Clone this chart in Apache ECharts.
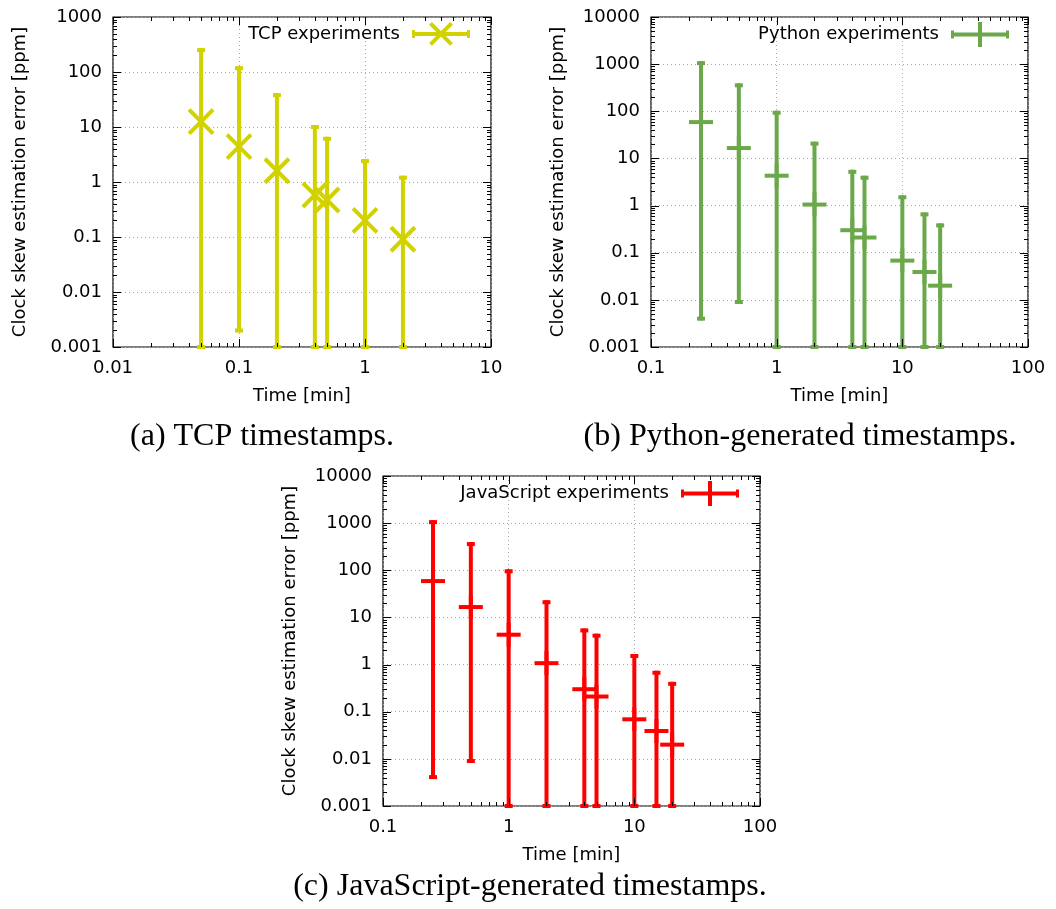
<!DOCTYPE html>
<html>
<head>
<meta charset="utf-8">
<script src="https://cdn.jsdelivr.net/npm/echarts@6/dist/echarts.min.js"></script>
<style>
  html, body { margin: 0; padding: 0; background: #fff; }
  #echarts { width: 1056px; height: 909px; }
</style>
</head>
<body>
<div id="echarts"></div>
<script>
// valores: tempo [min], erro médio, limites da barra de erro
var tcpTime = [0.05, 0.1, 0.2, 0.4, 0.5, 1, 2];
var tcpErr = [12.5, 4.4, 1.6, 0.58, 0.47, 0.2, 0.091];
var tcpHigh = [250, 117, 38, 10, 6.1, 2.4, 1.2];
var tcpLow = [0.001, 0.002, 0.001, 0.001, 0.001, 0.001, 0.001];

var pyTime = [0.25, 0.5, 1, 2, 4, 5, 10, 15, 20];
var pyErr = [59, 16.6, 4.3, 1.05, 0.3, 0.21, 0.068, 0.039, 0.02];
var pyHigh = [1050, 355, 93, 20.6, 5.2, 3.9, 1.5, 0.65, 0.38];
var pyLow = [0.004, 0.009, 0.001, 0.001, 0.001, 0.001, 0.001, 0.001, 0.001];

var jsTime = [0.25, 0.5, 1, 2, 4, 5, 10, 15, 20];
var jsErr = [59, 16.6, 4.3, 1.07, 0.3, 0.21, 0.069, 0.039, 0.02];
var jsHigh = [1050, 360, 95, 21, 5.3, 4.1, 1.52, 0.67, 0.39];
var jsLow = [0.0041, 0.009, 0.001, 0.001, 0.001, 0.001, 0.001, 0.001, 0.001];

// limites dos eixos
var xRangeA = [0.01, 10];
var yRangeA = [0.001, 1000];
var xRangeB = [0.1, 100];
var yRangeB = [0.001, 10000];

var captions = ['(a) TCP timestamps.', '(b) Python-generated timestamps.', '(c) JavaScript-generated timestamps.'];
var legendNames = ['TCP experiments', 'Python experiments', 'JavaScript experiments'];
var colors = ['#d2d200', '#6aa84a', '#ff0000'];

var chart = echarts.init(document.getElementById('echarts'));

var sans = 'DejaVu Sans';

// junta as colunas em linhas [x, y, low, high]
function rows(t, e, lo, hi) {
    return t.map(function (v, i) {
        return [v, e[i], lo[i], hi[i]];
    });
}

// ticks maiores e menores (décadas e 2..9 x década)
function tickRows(xr, yr) {
    var out = [];
    function add(lo, hi, kind) {
        for (var d = lo; d <= hi * 1.0001; d *= 10) {
            var dec = +d.toPrecision(6);
            if (kind === 0) out.push([dec, yr[0], 1, 0]);
            else out.push([xr[0], dec, 1, 1]);
            if (dec * 10 > hi * 1.0001) break;
            for (var k = 2; k <= 9; k++) {
                var v = +(k * dec).toPrecision(6);
                if (kind === 0) out.push([v, yr[0], 0, 0]);
                else out.push([xr[0], v, 0, 1]);
            }
        }
    }
    add(xr[0], xr[1], 0);
    add(yr[0], yr[1], 1);
    return out;
}

function renderTicks(params, api) {
    var cs = params.coordSys;
    var p = api.coord([api.value(0), api.value(1)]);
    var len = api.value(2) ? 8 : 4;
    var st = { stroke: '#000', lineWidth: 1 };
    var kids = [];
    if (api.value(3) === 0) {
        var x = Math.round(p[0]) + 0.5;
        var b = cs.y + cs.height;
        kids.push({ type: 'line', shape: { x1: x, y1: b, x2: x, y2: b - len }, style: st });
        kids.push({ type: 'line', shape: { x1: x, y1: cs.y, x2: x, y2: cs.y + len }, style: st });
    } else {
        var y = Math.round(p[1]) + 0.5;
        var r = cs.x + cs.width;
        kids.push({ type: 'line', shape: { x1: cs.x, y1: y, x2: cs.x + len, y2: y }, style: st });
        kids.push({ type: 'line', shape: { x1: r, y1: y, x2: r - len, y2: y }, style: st });
    }
    return { type: 'group', children: kids };
}

// barra de erro com marcador 'x' ou '+'
function renderErr(marker) {
    return function (params, api) {
        var c = api.coord([api.value(0), api.value(1)]);
        var pl = api.coord([api.value(0), api.value(2)]);
        var ph = api.coord([api.value(0), api.value(3)]);
        var st = { stroke: api.visual('color'), lineWidth: 4 };
        var x = c[0];
        var kids = [
            { type: 'line', shape: { x1: x, y1: pl[1] + 2, x2: x, y2: ph[1] - 2 }, style: st },
            { type: 'line', shape: { x1: x - 4, y1: pl[1], x2: x + 4, y2: pl[1] }, style: st },
            { type: 'line', shape: { x1: x - 4, y1: ph[1], x2: x + 4, y2: ph[1] }, style: st }
        ];
        var s = 12;
        if (marker === 'x') {
            kids.push({ type: 'line', shape: { x1: x - s, y1: c[1] - s, x2: x + s, y2: c[1] + s }, style: st });
            kids.push({ type: 'line', shape: { x1: x - s, y1: c[1] + s, x2: x + s, y2: c[1] - s }, style: st });
        } else {
            kids.push({ type: 'line', shape: { x1: x - s, y1: c[1], x2: x + s, y2: c[1] }, style: st });
            kids.push({ type: 'line', shape: { x1: x, y1: c[1] - s, x2: x, y2: c[1] + s }, style: st });
        }
        return { type: 'group', children: kids };
    };
}

var iconX = 'path://M0,10.5H58V14.5H0Z M0,8.5H3V16.5H0Z M55,8.5H58V16.5H55Z ' +
    'M19.9,0.6L40.9,21.6L38.1,24.4L17.1,3.4Z M38.1,0.6L40.9,3.4L19.9,24.4L17.1,21.6Z';
var iconPlus = 'path://M0,10.5H58V14.5H0Z M0,8.5H3V16.5H0Z M55,8.5H58V16.5H55Z M27,0H31V25H27Z';

function fmt(v) {
    return String(+(+v).toPrecision(4));
}

function xAxisFor(i, range) {
    return {
        type: 'log', logBase: 10, gridIndex: i, min: range[0], max: range[1],
        name: 'Time [min]', nameLocation: 'middle', nameGap: 40,
        nameTextStyle: { color: '#000', fontSize: 18, fontFamily: sans },
        axisLine: { show: false },
        axisTick: { show: false },
        axisLabel: { color: '#000', fontSize: 18, fontFamily: sans, margin: 12, formatter: fmt },
        splitLine: { show: true, lineStyle: { color: '#a8a8a8', width: 1, type: [1, 3] } }
    };
}

function yAxisFor(i, range) {
    return {
        type: 'log', logBase: 10, gridIndex: i, min: range[0], max: range[1],
        name: 'Clock skew estimation error [ppm]', nameLocation: 'middle', nameGap: 84,
        nameTextStyle: { color: '#000', fontSize: 18, fontFamily: sans },
        axisLine: { show: false },
        axisTick: { show: false },
        axisLabel: { color: '#000', fontSize: 18, fontFamily: sans, margin: 11, formatter: fmt },
        splitLine: { show: true, lineStyle: { color: '#a8a8a8', width: 1, type: [1, 3] } }
    };
}

function legendFor(i, right, top, icon) {
    return {
        data: [{ name: legendNames[i], icon: icon }],
        right: right, top: top, padding: 0,
        align: 'right', itemWidth: 58, itemHeight: 25,
        selectedMode: false,
        textStyle: { color: '#000', fontSize: 18, fontFamily: sans, padding: [0, 7, 0, 0] }
    };
}

var captionFont = { fontSize: 32, fontFamily: 'Liberation Serif', fill: '#000', textAlign: 'center', textVerticalAlign: 'middle' };

function caption(i, x, y) {
    return { type: 'text', x: x, y: y, style: Object.assign({ text: captions[i] }, captionFont) };
}

var options = {
    animation: false,
    backgroundColor: '#fff',
    grid: [
        { left: 113, top: 17, width: 378, height: 330, show: true, borderColor: '#000', borderWidth: 1.2, backgroundColor: 'transparent' },
        { left: 651, top: 17, width: 377, height: 330, show: true, borderColor: '#000', borderWidth: 1.2, backgroundColor: 'transparent' },
        { left: 383, top: 476, width: 377, height: 330, show: true, borderColor: '#000', borderWidth: 1.2, backgroundColor: 'transparent' }
    ],
    xAxis: [xAxisFor(0, xRangeA), xAxisFor(1, xRangeB), xAxisFor(2, xRangeB)],
    yAxis: [yAxisFor(0, yRangeA), yAxisFor(1, yRangeB), yAxisFor(2, yRangeB)],
    legend: [
        legendFor(0, 586, 22, iconX),
        legendFor(1, 47, 22, iconPlus),
        legendFor(2, 317, 481, iconPlus)
    ],
    graphic: [
        caption(0, 262, 437),
        caption(1, 800, 437),
        caption(2, 530, 887)
    ],
    series: [
        {
            name: 'ticksA', type: 'custom', xAxisIndex: 0, yAxisIndex: 0, z: 5, silent: true,
            renderItem: renderTicks, data: tickRows(xRangeA, yRangeA), encode: { x: 0, y: 1 }
        },
        {
            name: 'ticksB', type: 'custom', xAxisIndex: 1, yAxisIndex: 1, z: 5, silent: true,
            renderItem: renderTicks, data: tickRows(xRangeB, yRangeB), encode: { x: 0, y: 1 }
        },
        {
            name: 'ticksC', type: 'custom', xAxisIndex: 2, yAxisIndex: 2, z: 5, silent: true,
            renderItem: renderTicks, data: tickRows(xRangeB, yRangeB), encode: { x: 0, y: 1 }
        },
        {
            name: legendNames[0], type: 'custom', xAxisIndex: 0, yAxisIndex: 0, z: 4, clip: false,
            itemStyle: { color: colors[0] },
            renderItem: renderErr('x'), data: rows(tcpTime, tcpErr, tcpLow, tcpHigh), encode: { x: 0, y: 1 }
        },
        {
            name: legendNames[1], type: 'custom', xAxisIndex: 1, yAxisIndex: 1, z: 4, clip: false,
            itemStyle: { color: colors[1] },
            renderItem: renderErr('+'), data: rows(pyTime, pyErr, pyLow, pyHigh), encode: { x: 0, y: 1 }
        },
        {
            name: legendNames[2], type: 'custom', xAxisIndex: 2, yAxisIndex: 2, z: 4, clip: false,
            itemStyle: { color: colors[2] },
            renderItem: renderErr('+'), data: rows(jsTime, jsErr, jsLow, jsHigh), encode: { x: 0, y: 1 }
        }
    ]
};

chart.setOption(options);
</script>
</body>
</html>
